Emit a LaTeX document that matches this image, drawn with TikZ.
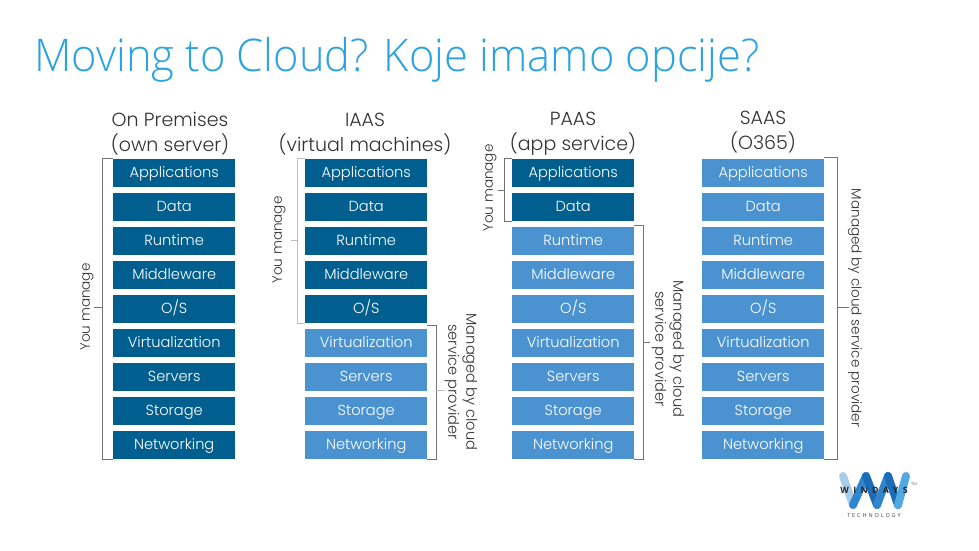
\documentclass[tikz,border=0pt]{standalone}
\usepackage{fontspec}
\setmainfont{Poppins Light}
\newfontfamily\titlefont[FakeStretch=0.965]{Open Sans Light}
\newfontfamily\logofont[LetterSpace=50]{Open Sans}
\newfontfamily\techfont[LetterSpace=35]{Open Sans}
\usetikzlibrary{calc}
\definecolor{darkblue}{HTML}{005F8F}
\definecolor{lightblue}{HTML}{4A93D0}
\definecolor{titleblue}{HTML}{2BA3DE}
\definecolor{txt}{HTML}{333333}
\definecolor{wa}{HTML}{A9CDE8}
\definecolor{wb}{HTML}{2F86CC}
\definecolor{wc}{HTML}{1B6DB8}
\definecolor{wd}{HTML}{52A8E0}
\tikzset{
  x=1pt,y=-1pt,
  layer/.style={minimum width=122pt,minimum height=28.5pt,inner sep=0pt,text=white,text height=11pt,text depth=2pt,font=\fontsize{14.6}{17}\selectfont,anchor=north west},
  dk/.style={layer,fill=darkblue},
  lt/.style={layer,fill=lightblue},
  head/.style={align=center,text=txt,font=\fontsize{19}{25}\selectfont},
  side/.style={align=center,text=txt,font=\fontsize{13.6}{17.5}\selectfont},
  sidewide/.style={side,font=\fontsize{14.6}{18}\selectfont},
  brdark/.style={draw=black!55,line width=1pt},
  brlight/.style={draw=black!25,line width=1pt},
  wstroke/.style={line width=8pt,line cap=round,line join=round},
}
\newcommand{\stack}[5]{%
  \foreach \nm/\lab/\yy [count=\i] in {app/Applications/158.5,dat/Data/192.5,run/Runtime/226.5,mid/Middleware/260.5,os/O\slash S/294.5,vir/Virtualization/328.5,ser/Servers/362.5,sto/Storage/396.5,net/Networking/430.5}{%
    \ifnum\i>#3\relax\def\st{#5}\else\def\st{#4}\fi
    \node[\st] (#1\nm) at (#2,\yy) {\lab};
  }%
}
\begin{document}
\begin{tikzpicture}
\useasboundingbox (0,0) rectangle (979,551);
\fill[white] (0,0) rectangle (979,551);
\node[anchor=west,inner sep=0pt,text=titleblue,font=\titlefont\fontsize{45}{50}\selectfont] (title) at (34,60) {Moving to Cloud? Koje imamo opcije?};

\stack{a}{113}{9}{dk}{lt}
\stack{b}{305}{5}{dk}{lt}
\stack{c}{512}{2}{dk}{lt}
\stack{d}{702}{0}{dk}{lt}

\node[head] (ha) at (170,134) {On Premises\\(own server)};
\node[head] (hb) at (365,134) {IAAS\\(virtual machines)};
\node[head] (hc) at (573,134) {PAAS\\(app service)};
\node[head] (hd) at (763,132) {SAAS\\(O365)};

% brackets
\draw[brdark] (aapp.north west) -- ++(-11,0) coordinate (p1) -- (p1 |- anet.south) -- (anet.south west);
\coordinate (t1) at (102,307);
\coordinate (e1) at (94,307);
\node[side,rotate=90] (ya) at (87,307) {You manage};
\draw[brdark] (t1) -- (e1);

\draw[brlight] (bapp.north west) -- ++(-8,0) coordinate (p2) -- (p2 |- bos.south) -- (bos.south west);
\coordinate (t2) at (297,240);
\coordinate (e2) at (291,240);
\node[side,rotate=90] (yb) at (279,240) {You manage};
\draw[brlight] (t2) -- (e2);

\draw[brdark] ($(bvir.north east)+(0,-3)$) -- ++(9,0) coordinate (p3) -- (p3 |- bnet.south) -- (bnet.south east);
\coordinate (t3) at (436,390);
\coordinate (e3) at (445,390);
\node[sidewide,rotate=-90] (mb) at (461,382) {Managed by cloud\\service provider};
\draw[brlight] (t3) -- (e3);

\draw[brdark] (capp.north west) -- ++(-8,0) coordinate (p4) -- (p4 |- cdat.south) -- (cdat.south west);
\coordinate (t4) at (504,190);
\coordinate (e4) at (498,190);
\node[side,rotate=90] (yc) at (490,188) {You manage};
\draw[brdark] (t4) -- (e4);

\draw[brdark] ($(crun.north east)+(0,-1)$) -- ++(9,0) coordinate (p5) -- (p5 |- cnet.south) -- (cnet.south east);
\coordinate (t5) at (643,342);
\coordinate (e5) at (650,342);
\node[sidewide,rotate=-90] (mc) at (668,349) {Managed by cloud\\service provider};
\draw[brdark] (t5) -- (e5);

\draw[brdark] ($(dapp.north east)+(0,-1)$) -- ++(13,0) coordinate (p6) -- (p6 |- dnet.south) -- (dnet.south east);
\coordinate (t6) at (838,307);
\coordinate (e6) at (849,307);
\node[side,rotate=-90] (md) at (855,308) {Managed by cloud service provider};
\draw[brdark] (t6) -- (e6);

% logo
\draw[wstroke,draw=wa] (843,476) -- (853,505);
\draw[wstroke,draw=wb] (853,505) -- (866,476);
\draw[wstroke,draw=wc] (866,476) -- (877,505);
\draw[wstroke,draw=wb] (877,505) -- (888,476);
\draw[wstroke,draw=wc] (888,476) -- (898,505);
\draw[wstroke,draw=wd] (898,505) -- (906,476);
\node[inner sep=0pt,font=\logofont\bfseries\fontsize{8.8}{11}\selectfont,text=black!85] (lg) at (874,490) {WINDAYS};
\node[inner sep=0pt,anchor=west,font=\fontsize{4}{5}\selectfont,text=black!70] (tm) at (911,484) {TM};
\node[inner sep=0pt,font=\techfont\fontsize{5.5}{6}\selectfont,text=black!75] (tech) at (874,515.5) {TECHNOLOGY};
\end{tikzpicture}
\end{document}
